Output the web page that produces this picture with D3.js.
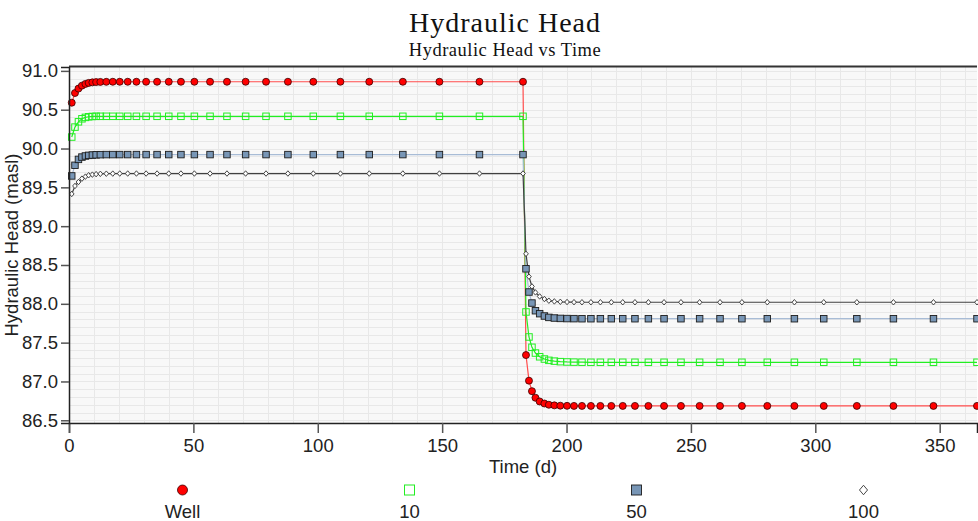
<!DOCTYPE html>
<html>
<head>
<meta charset="utf-8">
<script src="https://cdn.jsdelivr.net/npm/d3@7"></script>
<style>
  html, body { margin: 0; padding: 0; background: #fff; }
  #container { width: 978px; height: 521px; }
</style>
</head>
<body>
<div id="container"></div>
<script>
// output times (d), stress period 1 then stress period 2
const times = [
  1.1, 2.4, 3.8, 5.2, 6.6, 7.9, 9.4, 10.9, 12.6, 15.0, 17.6, 20.4, 23.6, 27.1, 31.0, 35.4,
  40.1, 45.0, 50.4, 56.7, 63.5, 71.0, 79.2, 88.0, 98.2, 109.1, 120.7, 134.2, 148.9, 165.0, 182.5,
  183.7, 184.9, 186.1, 187.5, 189.2, 191.1, 192.9, 195.1, 197.5, 200.2, 203.0, 206.2, 209.8, 213.6, 218.0,
  222.6, 227.5, 232.9, 239.2, 246.0, 253.5, 261.7, 270.5, 280.7, 291.6, 303.4, 316.7, 331.4, 347.5, 365.0
];

// hydraulic head (masl) per observation point
const headWell = [
  90.59, 90.715, 90.772, 90.81, 90.832, 90.845, 90.852, 90.856, 90.858, 90.859, 90.86, 90.86, 90.86, 90.86, 90.86, 90.86,
  90.86, 90.86, 90.86, 90.86, 90.86, 90.86, 90.86, 90.86, 90.86, 90.86, 90.86, 90.86, 90.86, 90.86, 90.86,
  87.34, 87.01, 86.875, 86.79, 86.742, 86.716, 86.70, 86.692, 86.688, 86.686, 86.685, 86.685, 86.685, 86.685, 86.685,
  86.685, 86.685, 86.685, 86.685, 86.685, 86.685, 86.685, 86.685, 86.685, 86.685, 86.685, 86.685, 86.685, 86.685, 86.685
];
const head10 = [
  90.148, 90.276, 90.344, 90.383, 90.401, 90.409, 90.413, 90.415, 90.415, 90.415, 90.415, 90.415, 90.415, 90.415, 90.415, 90.415,
  90.415, 90.415, 90.415, 90.415, 90.415, 90.415, 90.415, 90.415, 90.415, 90.415, 90.415, 90.415, 90.415, 90.415, 90.415,
  87.895, 87.573, 87.44, 87.366, 87.318, 87.289, 87.272, 87.262, 87.255, 87.251, 87.249, 87.248, 87.247, 87.247, 87.247,
  87.247, 87.247, 87.247, 87.247, 87.247, 87.247, 87.247, 87.247, 87.247, 87.247, 87.247, 87.247, 87.247, 87.247, 87.247
];
const head50 = [
  89.647, 89.784, 89.86, 89.89, 89.904, 89.912, 89.916, 89.919, 89.921, 89.922, 89.922, 89.922, 89.922, 89.922, 89.922, 89.922,
  89.922, 89.922, 89.922, 89.922, 89.922, 89.922, 89.922, 89.922, 89.922, 89.922, 89.922, 89.922, 89.922, 89.922, 89.922,
  88.451, 88.152, 88.01, 87.911, 87.873, 87.843, 87.825, 87.817, 87.812, 87.81, 87.809, 87.808, 87.808, 87.808, 87.808,
  87.808, 87.808, 87.808, 87.808, 87.808, 87.808, 87.808, 87.808, 87.808, 87.808, 87.808, 87.808, 87.808, 87.808, 87.808
];
const head100 = [
  89.415, 89.518, 89.569, 89.612, 89.638, 89.656, 89.664, 89.67, 89.674, 89.676, 89.677, 89.678, 89.678, 89.678, 89.678, 89.678,
  89.678, 89.678, 89.678, 89.678, 89.678, 89.678, 89.678, 89.678, 89.678, 89.678, 89.678, 89.678, 89.678, 89.678, 89.678,
  88.644, 88.35, 88.224, 88.147, 88.095, 88.062, 88.04, 88.031, 88.026, 88.023, 88.021, 88.02, 88.02, 88.02, 88.02,
  88.02, 88.02, 88.02, 88.02, 88.02, 88.02, 88.02, 88.02, 88.02, 88.02, 88.02, 88.02, 88.02, 88.02, 88.02
];

const seriesNames = ["Well", "10", "50", "100"];
const xTicks = [0, 50, 100, 150, 200, 250, 300, 350];
const yTicks = [86.5, 87.0, 87.5, 88.0, 88.5, 89.0, 89.5, 90.0, 90.5, 91.0];

const W = 978, H = 521;
const plot = { left: 69, right: 977, top: 67, bottom: 423 };
const sans = "'Liberation Sans', Arial, sans-serif";
const serif = "'Liberation Serif', 'Times New Roman', serif";

const svg = d3.create("svg")
  .attr("width", W)
  .attr("height", H)
  .style("display", "block");
document.getElementById("container").append(svg.node());

const x = d3.scaleLinear().domain([0, 365]).range([plot.left, plot.right]);
const y = d3.scaleLinear().domain([86.465, 91.05]).range([plot.bottom, plot.top]);

// plot background
svg.append("rect")
  .attr("x", plot.left)
  .attr("y", plot.top)
  .attr("width", plot.right - plot.left)
  .attr("height", plot.bottom - plot.top)
  .attr("fill", "#f8f8f8");

// grid: every 10 d and every 0.1 m
const grid = svg.append("g").attr("stroke", "#e8e8e8").attr("stroke-width", 1);
grid.selectAll("line.v")
  .data(d3.range(10, 365, 10))
  .join("line")
  .attr("x1", d => Math.round(x(d)) + 0.5)
  .attr("x2", d => Math.round(x(d)) + 0.5)
  .attr("y1", plot.top)
  .attr("y2", plot.bottom);
grid.selectAll("line.h")
  .data(d3.range(0, 46).map(i => 86.5 + i * 0.1))
  .join("line")
  .attr("x1", plot.left)
  .attr("x2", plot.right)
  .attr("y1", d => Math.round(y(d)) + 0.5)
  .attr("y2", d => Math.round(y(d)) + 0.5);

// marker shapes
function drawMarker(sel, kind, size) {
  if (kind === "circle") {
    sel.append("circle").attr("r", size / 2)
      .attr("fill", "#ff0000").attr("stroke", "#3a0000").attr("stroke-width", 0.8);
  } else if (kind === "open") {
    sel.append("rect").attr("x", -size / 2).attr("y", -size / 2)
      .attr("width", size).attr("height", size)
      .attr("fill", "none").attr("stroke", "#22ee22").attr("stroke-width", 1);
  } else if (kind === "square") {
    sel.append("rect").attr("x", -size / 2).attr("y", -size / 2)
      .attr("width", size).attr("height", size)
      .attr("fill", "#7896b6").attr("stroke", "#1c1c1c").attr("stroke-width", 0.9);
  } else {
    const s = size / 2;
    sel.append("path").attr("d", `M0,${-s}L${s * 0.85},0L0,${s}L${-s * 0.85},0Z`)
      .attr("fill", "#fff").attr("stroke", "#333").attr("stroke-width", 0.9);
  }
}

const series = [
  { name: seriesNames[0], values: headWell, line: "#ff4d4d", marker: "circle", size: 7 },
  { name: seriesNames[1], values: head10, line: "#22ee22", marker: "open", size: 6.5 },
  { name: seriesNames[2], values: head50, line: "#a8bcd6", marker: "square", size: 6.5 },
  { name: seriesNames[3], values: head100, line: "#404040", marker: "diamond", size: 5.5 }
];

const line = d3.line().x(d => x(d[0])).y(d => y(d[1]));

series.forEach(s => {
  const pts = times.map((t, i) => [t, s.values[i]]);
  svg.append("path")
    .datum(pts)
    .attr("fill", "none")
    .attr("stroke", s.line)
    .attr("stroke-width", 1.2)
    .attr("d", line);
});
series.forEach(s => {
  const pts = times.map((t, i) => [t, s.values[i]]);
  svg.append("g").selectAll("g")
    .data(pts)
    .join("g")
    .attr("transform", d => `translate(${x(d[0])},${y(d[1])})`)
    .each(function () { drawMarker(d3.select(this), s.marker, s.size); });
});

// frame
svg.append("line")
  .attr("x1", plot.left).attr("x2", plot.right)
  .attr("y1", plot.top - 0.5).attr("y2", plot.top - 0.5)
  .attr("stroke", "#333").attr("stroke-width", 2);

// axes
const xAxis = svg.append("g")
  .attr("transform", `translate(0,${plot.bottom})`)
  .call(d3.axisBottom(x).tickValues(xTicks).tickSize(10).tickPadding(6).tickFormat(d3.format("d")));
const yAxis = svg.append("g")
  .attr("transform", `translate(${plot.left},0)`)
  .call(d3.axisLeft(y).tickValues(yTicks).tickSize(8).tickPadding(3).tickFormat(d3.format(".1f")));

[xAxis, yAxis].forEach(a => {
  a.select(".domain").attr("stroke", "#222").attr("stroke-width", 1.5);
  a.selectAll(".tick line").attr("stroke", "#555").attr("stroke-width", 1.5);
  a.selectAll(".tick text")
    .attr("fill", "#222")
    .style("font-family", sans)
    .style("font-size", "18.5px");
});

// axis titles
svg.append("text")
  .attr("x", (plot.left + plot.right) / 2)
  .attr("y", 473)
  .attr("text-anchor", "middle")
  .style("font-family", sans)
  .style("font-size", "18.5px")
  .attr("fill", "#222")
  .text("Time (d)");

svg.append("text")
  .attr("transform", `translate(18,${(plot.top + plot.bottom) / 2}) rotate(-90)`)
  .attr("text-anchor", "middle")
  .style("font-family", sans)
  .style("font-size", "18.5px")
  .attr("fill", "#222")
  .text("Hydraulic Head (masl)");

// titles
svg.append("text")
  .attr("x", 505)
  .attr("y", 32)
  .attr("text-anchor", "middle")
  .style("font-family", serif)
  .style("font-size", "28px")
  .style("letter-spacing", "1px")
  .attr("fill", "#111")
  .text("Hydraulic Head");

svg.append("text")
  .attr("x", 505)
  .attr("y", 56)
  .attr("text-anchor", "middle")
  .style("font-family", serif)
  .style("font-size", "18.5px")
  .style("letter-spacing", "0.5px")
  .attr("fill", "#111")
  .text("Hydraulic Head vs Time");

// legend spread across the plot width
const slot = (plot.right - plot.left) / series.length;
const legend = svg.append("g");
series.forEach((s, i) => {
  const cx = plot.left + slot * (i + 0.5);
  const item = legend.append("g");
  drawMarker(item.append("g").attr("transform", `translate(${cx},490)`), s.marker, s.marker === "diamond" ? 9.5 : 10);
  item.append("text")
    .attr("x", cx)
    .attr("y", 518)
    .attr("text-anchor", "middle")
    .style("font-family", sans)
    .style("font-size", "18.5px")
    .attr("fill", "#222")
    .text(s.name);
});
</script>
</body>
</html>
